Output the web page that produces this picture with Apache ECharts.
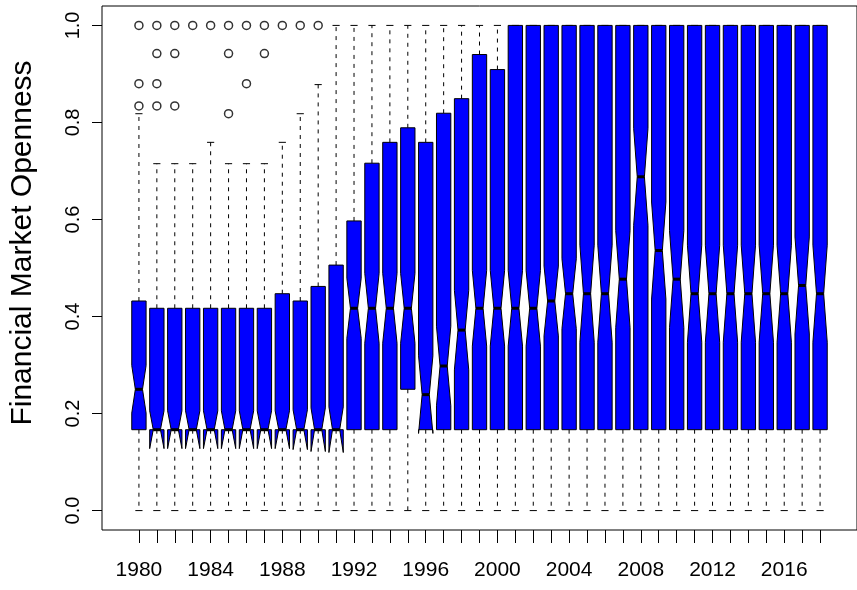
<!DOCTYPE html>
<html>
<head>
<meta charset="utf-8">
<script src="https://cdn.jsdelivr.net/npm/echarts@6/dist/echarts.min.js"></script>
<style>
  html, body { margin: 0; padding: 0; background: #fff; }
  #chart { width: 857px; height: 590px; }
</style>
</head>
<body>
<div id="chart"></div>
<script>
// one box per year, 1980 - 2018
const years = [];
for (let y = 1980; y <= 2018; y++) years.push(y);

const whiskerLow = new Array(39).fill(0);
const lowerHinge = [
  0.1667, 0.1667, 0.1667, 0.1667, 0.1667, 0.1667, 0.1667, 0.1667, 0.1667, 0.1667,
  0.1667, 0.1667, 0.1667, 0.1667, 0.1667, 0.25, 0.1667, 0.1667, 0.1667, 0.1667,
  0.1667, 0.1667, 0.1667, 0.1667, 0.1667, 0.1667, 0.1667, 0.1667, 0.1667, 0.1667,
  0.1667, 0.1667, 0.1667, 0.1667, 0.1667, 0.1667, 0.1667, 0.1667, 0.1667
];
const medians = [
  0.25, 0.1667, 0.1667, 0.1667, 0.1667, 0.1667, 0.1667, 0.1667, 0.1667, 0.1667,
  0.1667, 0.1667, 0.417, 0.417, 0.417, 0.417, 0.239, 0.298, 0.372, 0.417,
  0.417, 0.417, 0.417, 0.432, 0.447, 0.447, 0.447, 0.477, 0.688, 0.536,
  0.477, 0.447, 0.447, 0.447, 0.447, 0.447, 0.447, 0.464, 0.447
];
const upperHinge = [
  0.432, 0.417, 0.417, 0.417, 0.417, 0.417, 0.417, 0.417, 0.447, 0.432,
  0.462, 0.506, 0.597, 0.716, 0.759, 0.789, 0.759, 0.819, 0.849, 0.94,
  0.909, 1, 1, 1, 1, 1, 1, 1, 1, 1,
  1, 1, 1, 1, 1, 1, 1, 1, 1
];
const whiskerHigh = [
  0.818, 0.715, 0.715, 0.715, 0.759, 0.715, 0.715, 0.715, 0.759, 0.818,
  0.878, 1, 1, 1, 1, 1, 1, 1, 1, 1,
  1, 1, 1, 1, 1, 1, 1, 1, 1, 1,
  1, 1, 1, 1, 1, 1, 1, 1, 1
];
// half length of the notch around the median
const notchHalf = [
  0.049, 0.039, 0.039, 0.039, 0.039, 0.039, 0.039, 0.039, 0.039, 0.041,
  0.045, 0.047, 0.062, 0.072, 0.072, 0.072, 0.08, 0.082, 0.082, 0.078,
  0.078, 0.078, 0.078, 0.072, 0.072, 0.1, 0.1, 0.1, 0.1, 0.1,
  0.1, 0.1, 0.1, 0.1, 0.1, 0.1, 0.1, 0.1, 0.1
];

const outlierYears = [
  1980, 1980, 1980,
  1981, 1981, 1981, 1981,
  1982, 1982, 1982,
  1983, 1984,
  1985, 1985, 1985,
  1986, 1986,
  1987, 1987,
  1988, 1989, 1990
];
const outlierValues = [
  0.834, 0.88, 1,
  0.834, 0.88, 0.942, 1,
  0.834, 0.942, 1,
  1, 1,
  0.818, 0.942, 1,
  0.88, 1,
  0.942, 1,
  1, 1, 1
];

const yTicks = [0, 0.2, 0.4, 0.6, 0.8, 1.0];

const boxData = years.map((yr, i) => [
  i, whiskerLow[i], lowerHinge[i], medians[i], upperHinge[i], whiskerHigh[i], notchHalf[i]
]);
const outlierData = outlierYears.map((yr, k) => [years.indexOf(yr), outlierValues[k]]);

const chart = echarts.init(document.getElementById('chart'));

function renderBox(params, api) {
  const i = api.value(0);
  const band = api.size([1, 0])[0];
  const w = band * 0.4;
  const cap = band * 0.2;
  const x = api.coord([i, 0])[0];
  const py = v => api.coord([i, v])[1];
  const wlo = py(api.value(1)), q1 = py(api.value(2)), med = py(api.value(3));
  const q3 = py(api.value(4)), whi = py(api.value(5));
  const nh = api.value(6);
  const nlo = py(api.value(3) - nh), nhi = py(api.value(3) + nh);
  const dash = { stroke: '#000', lineWidth: 1, lineDash: [4, 5] };
  const solid = { stroke: '#000', lineWidth: 1 };
  const kids = [];
  // whiskers
  kids.push({ type: 'line', shape: { x1: x, y1: q1, x2: x, y2: wlo }, style: dash });
  if (whi < q3 - 0.5) {
    kids.push({ type: 'line', shape: { x1: x, y1: q3, x2: x, y2: whi }, style: dash });
  }
  kids.push({ type: 'line', shape: { x1: x - cap, y1: wlo, x2: x + cap, y2: wlo }, style: solid });
  kids.push({ type: 'line', shape: { x1: x - cap, y1: whi, x2: x + cap, y2: whi }, style: solid });
  // notched box
  kids.push({
    type: 'polygon',
    shape: {
      points: [
        [x - w, q1], [x - w, nlo], [x - w / 2, med], [x - w, nhi], [x - w, q3],
        [x + w, q3], [x + w, nhi], [x + w / 2, med], [x + w, nlo], [x + w, q1]
      ]
    },
    style: { fill: '#0000ff', stroke: '#000', lineWidth: 1 }
  });
  // median
  kids.push({
    type: 'line',
    shape: { x1: x - w / 2, y1: med, x2: x + w / 2, y2: med },
    style: { stroke: '#000', lineWidth: 3 }
  });
  return { type: 'group', children: kids };
}

const option = {
  animation: false,
  grid: {
    left: 100, right: -9.5, top: 6, bottom: 60,
    show: true, borderColor: '#000', borderWidth: 1, backgroundColor: 'transparent'
  },
  xAxis: {
    type: 'value',
    min: -2.06, max: 40.06,
    axisLine: { show: false, onZero: false },
    splitLine: { show: false },
    axisTick: {
      show: true, inside: false, length: 13,
      lineStyle: { color: '#000' },
      customValues: years.map((yr, i) => i)
    },
    axisLabel: {
      customValues: years.map((yr, i) => i).filter(i => i % 4 === 0),
      formatter: v => String(years[Math.round(v)]),
      margin: 30,
      fontSize: 21,
      color: '#000',
      fontFamily: 'Liberation Sans, Arial, sans-serif'
    }
  },
  yAxis: {
    type: 'value',
    min: -0.04, max: 1.04,
    name: 'Financial Market Openness',
    nameLocation: 'middle',
    nameRotate: 90,
    nameGap: 64,
    nameTextStyle: {
      fontSize: 30, color: '#000', fontFamily: 'Liberation Sans, Arial, sans-serif',
      padding: [0, 0, 0, 50]
    },
    axisLine: { show: false, onZero: false },
    splitLine: { show: false },
    axisTick: {
      show: true, inside: false, length: 10,
      lineStyle: { color: '#000' },
      customValues: yTicks
    },
    axisLabel: {
      customValues: yTicks,
      formatter: v => v.toFixed(1),
      rotate: 90,
      margin: 19,
      fontSize: 20,
      color: '#000',
      fontFamily: 'Liberation Sans, Arial, sans-serif'
    }
  },
  series: [
    {
      type: 'custom',
      renderItem: renderBox,
      encode: { x: 0, y: [1, 2, 3, 4, 5] },
      data: boxData
    },
    {
      type: 'scatter',
      symbol: 'circle',
      symbolSize: 8,
      itemStyle: { color: 'rgba(0,0,0,0)', borderColor: '#000', borderWidth: 1.5 },
      data: outlierData
    }
  ]
};

chart.setOption(option);
</script>
</body>
</html>
